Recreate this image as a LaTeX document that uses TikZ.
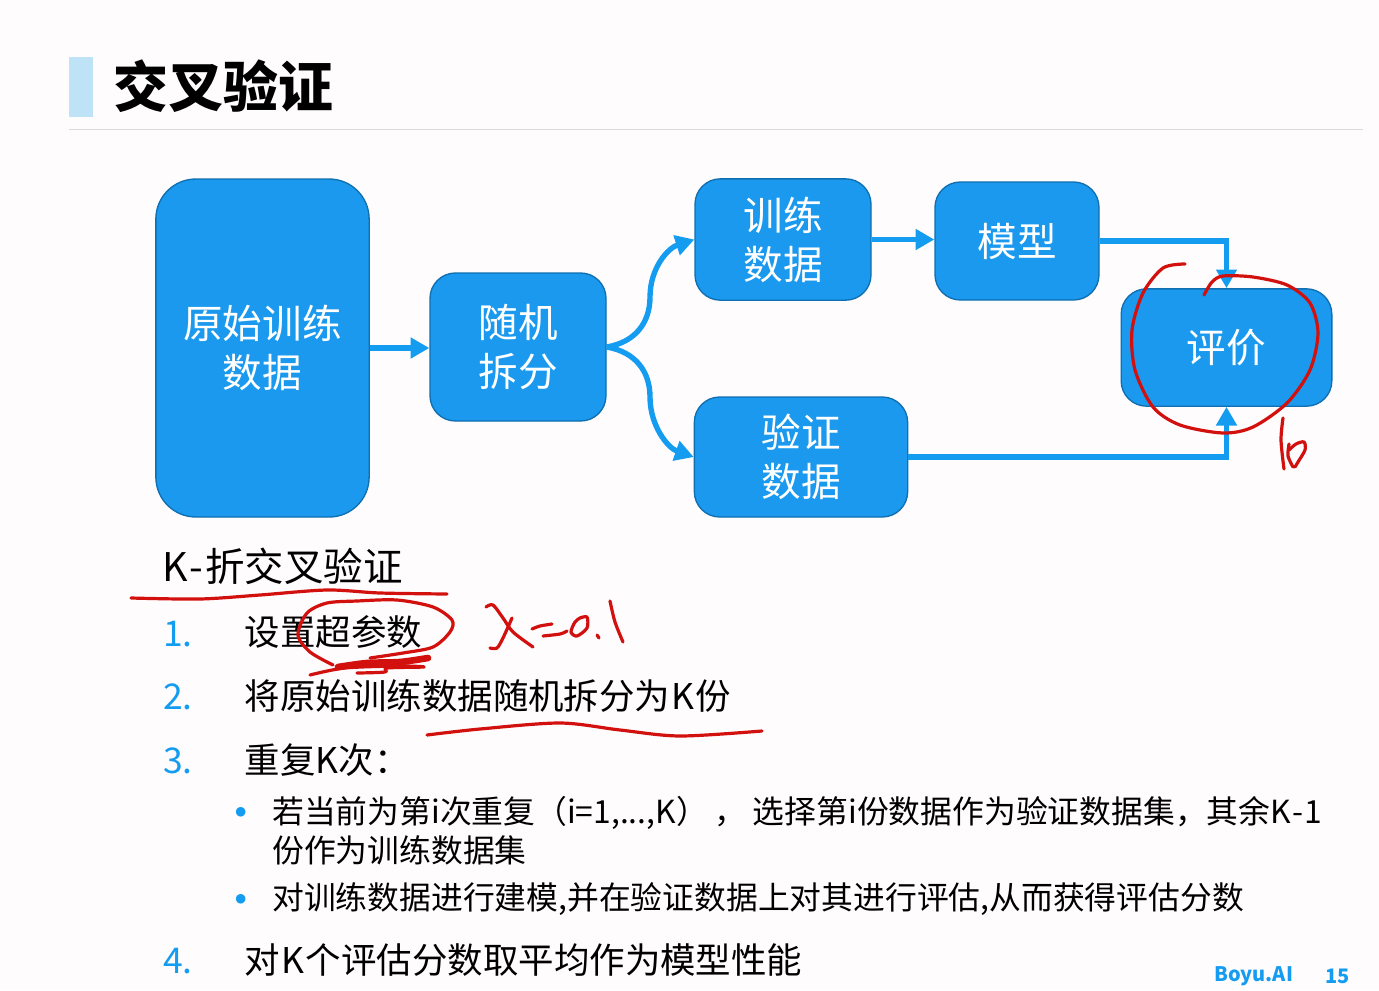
\documentclass[tikz,border=0pt]{standalone}
\usepackage{fontspec}
\usepackage{tikz}
\usetikzlibrary{arrows.meta}
\setmainfont{Noto Sans CJK SC}

\definecolor{boxblue}{HTML}{1A99EE}
\definecolor{boxedge}{HTML}{0F6FB0}
\definecolor{flowblue}{HTML}{149CF0}
\definecolor{barblue}{HTML}{BEE3F7}
\definecolor{inkred}{HTML}{D2110F}

\tikzset{
  boxnode/.style={draw=boxedge, fill=boxblue, line width=1pt, text=white, align=center,
    rounded corners=19pt, inner sep=0pt, font=\fontsize{29.7}{36.8}\selectfont},
  flow/.style={draw=flowblue, line width=4pt, -{Triangle[length=14pt,width=15pt]}},
  ink/.style={draw=inkred, line width=2.4pt, line cap=round, line join=round},
  heading/.style={anchor=west, inner sep=0pt, font=\fontsize{29.6}{36}\selectfont},
  item/.style={anchor=west, inner sep=0pt, font=\fontsize{26.6}{32}\selectfont},
  subitem/.style={anchor=west, inner sep=0pt, align=left, font=\fontsize{23.85}{29.3}\selectfont},
  numlabel/.style={item, text=flowblue},
  dotlabel/.style={inner sep=0pt, text=flowblue, font=\fontsize{34}{40}\selectfont}
}

\begin{document}
\begin{tikzpicture}[x=0.75pt, y=-0.75pt]
\useasboundingbox (0,0) rectangle (1379,990);
\fill[white!99!magenta] (0,0) rectangle (1379,990);

\fill[barblue] (69,57) rectangle (93,117);
\draw[black!14, line width=0.6pt] (69,129) -- (1363,129);
\node[anchor=west, inner sep=0pt, font=\fontsize{41.2}{48}\selectfont\bfseries] (title) at (113,86) {交叉验证};

\node[boxnode, minimum width=160pt, minimum height=253.5pt, rounded corners=30pt] (raw) at (262.5,348) {原始训练\\数据};
\node[boxnode, minimum width=132pt, minimum height=111pt] (split) at (518,347) {随机\\拆分};
\node[boxnode, minimum width=132pt, minimum height=91pt] (train) at (783,239.5) {训练\\数据};
\node[boxnode, minimum width=123pt, minimum height=88.5pt] (model) at (1017,241) {模型};
\node[boxnode, minimum width=160pt, minimum height=90pt] (val) at (801,457) {验证\\数据};
\node[boxnode, minimum width=158pt, minimum height=88pt] (eval) at (1226.5,347.5) {评价};

\draw[flow] (raw.east) -- (split.west |- raw.east);
\draw[flow] (split.east) .. controls (636,342) and (650,322) .. (650,297) .. controls (650,268) and (668,248) .. (train.west);
\draw[flow] (split.east) .. controls (636,352) and (650,372) .. (650,397) .. controls (650,426) and (668,448) .. (val.west);
\draw[flow] (train.east) -- (model.west |- train.east);
\draw[flow] (model.east) -| (eval.north);
\draw[flow] (val.east) -| (eval.south);

\node[heading] (kfold) at (162.5,566) {K\hspace{1pt}-\hspace{1.5pt}折交叉验证};
\foreach \n/\y in {1/634,2/697,3/761,4/961}
{
\node[numlabel] (num\n) at (163,\y) {\n.};
}
\node[item] (stepa) at (244.5,632) {设置超参数};
\node[item] (stepb) at (244.5,696) {将原始训练数据随机拆分为\hspace{1pt}K\hspace{1pt}份};
\node[item] (stepc) at (244.5,760) {重复K次：};
\node[item] (stepd) at (244.5,960) {对\hspace{1pt}K\hspace{1pt}个评估分数取平均作为模型性能};

\node[dotlabel] (dota) at (241,818) {•};
\node[dotlabel] (dotb) at (241,905) {•};
\node[subitem] (suba) at (272,830.5) {若当前为第i次重复（i=1,...,K）\hspace{5pt}，\hspace{5pt}选择第i份数据作为验证数据集，其余K\hspace{1pt}-\hspace{1pt}1\\份作为训练数据集};
\node[subitem] (subb) at (272,899.5) {对训练数据进行建模,并在验证数据上对其进行评估,从而获得评估分数};

\node[anchor=west, inner sep=0pt, text=flowblue, font=\fontsize{15}{18}\selectfont\bfseries] (brand) at (1214,976) {Boyu.AI};
\node[anchor=west, inner sep=0pt, text=flowblue, font=\fontsize{15}{18}\selectfont\bfseries] (page) at (1325,976) {15};

% hand-drawn marks
\draw[ink] plot[smooth] coordinates {(1185,264) (1163,268) (1143,293) (1132,330) (1135,370) (1153,407) (1180,425) (1223,433) (1253,427) (1287,403) (1310,370) (1318,333) (1310,303) (1287,285) (1253,277) (1223,276) (1212,282) (1204,295)};
\draw[ink] plot[smooth] coordinates {(1283,418) (1281,440) (1284,469)};
\draw[ink] plot[smooth] coordinates {(1289,444) (1288,456) (1293,467)};
\draw[ink] plot[smooth] coordinates {(1289,450) (1296,444) (1304,442) (1305,450) (1298,462) (1295,467)};
\draw[ink] plot[smooth] coordinates {(131,598) (200,599) (260,595) (327,590) (380,593) (447,594)};
\draw[ink] plot[smooth] coordinates {(370,658) (403,653) (433,647) (450,632) (452,620) (433,607) (397,600) (357,601) (327,603) (307,613) (298,635) (310,652) (333,665)};
\draw[ink, line width=5pt] plot[smooth] coordinates {(338,667) (367,663) (400,662) (428,658)};
\draw[ink] plot[smooth] coordinates {(310,675) (345,668) (400,666) (424,667) (387,668) (385,672) (357,673)};
\draw[ink] plot[smooth] coordinates {(486,607) (493,605) (503,618) (513,632) (533,647)};
\draw[ink] plot[smooth] coordinates {(512,618) (503,638) (497,648) (490,648)};
\draw[ink] plot[smooth] coordinates {(532,629) (540,626) (552,624)};
\draw[ink] plot[smooth] coordinates {(543,636) (560,634) (567,631)};
\draw[ink] plot[smooth] coordinates {(580,618) (575,622) (571,632) (577,636) (587,628) (587,617) (580,618)};
\draw[ink] (597,635) -- (599,638);
\draw[ink] plot[smooth] coordinates {(610,601) (615,622) (623,642)};
\draw[ink] plot[smooth] coordinates {(427,735) (480,729) (560,723) (620,730) (680,736) (762,731)};
\end{tikzpicture}
\end{document}
